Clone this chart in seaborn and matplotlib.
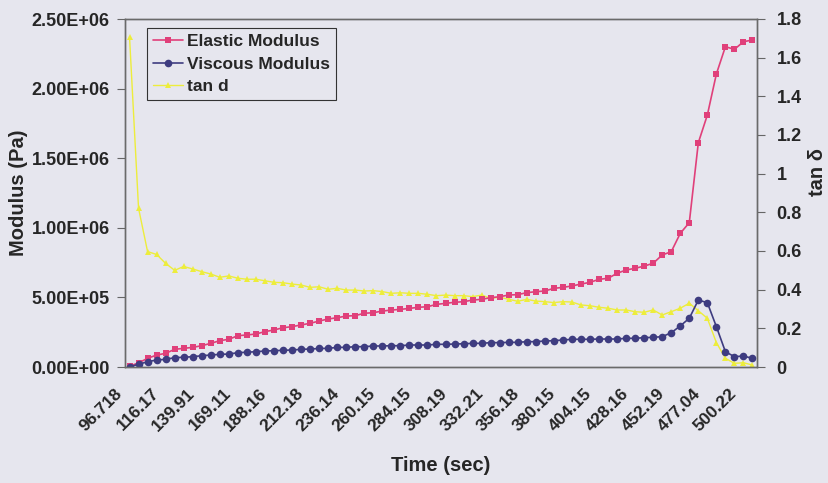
import numpy as np
import pandas as pd
import matplotlib
matplotlib.use("Agg")
import matplotlib.pyplot as plt
from matplotlib.ticker import FixedLocator, FuncFormatter
import seaborn as sns

# Time labels shown on the category axis (every 4th sample)
time_labels = ["96.718", "116.17", "139.91", "169.11", "188.16", "212.18",
               "236.14", "260.15", "284.15", "308.19", "332.21", "356.18",
               "380.15", "404.15", "428.16", "452.19", "477.04", "500.22"]

# Storage (elastic) modulus, Pa
elastic = [5e3, 30e3, 62e3, 86e3, 98e3, 127e3, 134e3, 141e3, 153e3, 170e3,
           189e3, 199e3, 225e3, 230e3, 237e3, 254e3, 266e3, 282e3, 290e3, 302e3,
           314e3, 330e3, 345e3, 354e3, 366e3, 369e3, 386e3, 390e3, 402e3, 409e3,
           414e3, 421e3, 429e3, 433e3, 450e3, 457e3, 465e3, 469e3, 481e3, 486e3,
           498e3, 505e3, 517e3, 520e3, 534e3, 541e3, 546e3, 565e3, 572e3, 582e3,
           596e3, 608e3, 630e3, 637e3, 673e3, 697e3, 709e3, 725e3, 745e3, 805e3,
           828e3, 960e3, 1037e3, 1611e3, 1810e3, 2105e3, 2301e3, 2282e3, 2337e3, 2349e3]

# Loss (viscous) modulus, Pa
viscous = [2e3, 19e3, 38e3, 50e3, 55e3, 67e3, 70e3, 74e3, 81e3, 86e3,
           91e3, 93e3, 103e3, 106e3, 110e3, 115e3, 117e3, 120e3, 122e3, 127e3,
           129e3, 133e3, 134e3, 141e3, 141e3, 146e3, 146e3, 151e3, 151e3, 153e3,
           153e3, 158e3, 158e3, 158e3, 163e3, 163e3, 165e3, 167e3, 170e3, 170e3,
           175e3, 175e3, 177e3, 177e3, 182e3, 182e3, 187e3, 189e3, 194e3, 199e3,
           199e3, 199e3, 201e3, 201e3, 201e3, 206e3, 206e3, 211e3, 213e3, 218e3,
           246e3, 295e3, 350e3, 481e3, 462e3, 290e3, 110e3, 74e3, 79e3, 62e3]

# Loss tangent
tan_d = [1.709, 0.821, 0.597, 0.582, 0.536, 0.500, 0.520, 0.507, 0.493, 0.481,
         0.464, 0.471, 0.459, 0.454, 0.454, 0.446, 0.438, 0.436, 0.429, 0.424,
         0.412, 0.415, 0.402, 0.407, 0.398, 0.398, 0.393, 0.395, 0.390, 0.381,
         0.384, 0.381, 0.381, 0.376, 0.369, 0.372, 0.369, 0.369, 0.364, 0.372,
         0.355, 0.361, 0.350, 0.340, 0.350, 0.341, 0.338, 0.333, 0.338, 0.336,
         0.321, 0.317, 0.309, 0.304, 0.295, 0.295, 0.286, 0.283, 0.295, 0.269,
         0.286, 0.304, 0.330, 0.291, 0.252, 0.126, 0.045, 0.019, 0.022, 0.010]

idx = np.arange(len(elastic))
df = pd.DataFrame({"idx": idx, "elastic": elastic, "viscous": viscous, "tan_d": tan_d})

bg = "#e6e6ee"
pink = "#e0407a"
navy = "#3e3c80"
yellow = "#eded3c"
text_c = "#262626"
tick_fs = 13
label_fs = 14.5

sns.set_theme(style="white")
plt.rcParams["font.family"] = ["Liberation Sans", "DejaVu Sans"]
plt.rcParams["font.weight"] = "bold"

fig = plt.figure(figsize=(8.29, 4.83), dpi=100, facecolor=bg)
ax = fig.add_axes([125 / 829, 1 - 367 / 483, 632 / 829, 348 / 483], facecolor=bg)
ax2 = ax.twinx()

sns.lineplot(data=df, x="idx", y="elastic", ax=ax, color=pink, marker="s",
             markersize=5, markeredgewidth=0, linewidth=1.2, legend=False)
sns.lineplot(data=df, x="idx", y="viscous", ax=ax, color=navy, marker="o",
             markersize=5.5, markeredgewidth=0, linewidth=1.2, legend=False)
sns.lineplot(data=df, x="idx", y="tan_d", ax=ax2, color=yellow, marker="^",
             markersize=5, markeredgewidth=0, linewidth=1.0, legend=False)

n = len(elastic)

ax.yaxis.set_major_locator(FixedLocator(np.arange(0, 2.5e6 + 1, 5e5)))
ax.yaxis.set_major_formatter(FuncFormatter(lambda v, p: f"{v:.2E}"))
ax2.yaxis.set_major_locator(FixedLocator(np.round(np.arange(0, 1.81, 0.2), 1)))
ax2.yaxis.set_major_formatter(FuncFormatter(lambda v, p: f"{v:g}"))

# Labels sit every 4th sample, on the left edge of that sample's slot so the
# rotated text ends just under its tick; tick marks sit on category boundaries.
label_pos = np.arange(0, 4 * len(time_labels), 4) - 0.45
ax.set_xticks(label_pos)
ax.set_xticklabels(time_labels, rotation=45, ha="right", va="bottom",
                   rotation_mode="anchor", fontsize=12.5, fontweight="bold", color=text_c)
ax.set_xticks(np.arange(-0.5, n, 4), minor=True)
ax.tick_params(axis="x", which="major", length=0, pad=21)
ax.tick_params(axis="x", which="minor", direction="inout", length=7, width=0.8, color="#666666")

ax.set_xlim(-0.5, n - 0.5)
ax.set_ylim(0, 2.5e6)
ax2.set_ylim(0, 1.8)

ax.tick_params(axis="y", which="major", direction="out", length=6, width=0.8,
               color="#666666", labelsize=tick_fs, labelcolor=text_c, pad=5)
ax2.tick_params(axis="y", which="major", direction="out", length=6, width=0.8,
                color="#666666", labelsize=tick_fs, labelcolor=text_c, pad=8)
for lab in ax.get_yticklabels() + ax2.get_yticklabels():
    lab.set_fontweight("bold")

for a in (ax, ax2):
    for s in a.spines.values():
        s.set_visible(True)
        s.set_color("#6a6a6a")
        s.set_linewidth(1.0)

ax.set_xlabel("Time (sec)", fontsize=label_fs, fontweight="bold", color=text_c)
ax.xaxis.set_label_coords(0.5, -0.256)
ax.set_ylabel("Modulus (Pa)", fontsize=label_fs, fontweight="bold", color=text_c)
ax.yaxis.set_label_coords(-0.153, 0.5)
ax2.set_ylabel("tan δ", fontsize=label_fs, fontweight="bold", color=text_c)
ax2.yaxis.set_label_coords(1.081, 0.56)

handles = ax.get_lines()[:2] + ax2.get_lines()[:1]
leg = ax.legend(handles, ["Elastic Modulus", "Viscous Modulus", "tan d"],
                loc="upper left", bbox_to_anchor=(0.035, 0.974), frameon=True,
                fancybox=False, edgecolor="#333333", facecolor=bg, framealpha=1,
                prop={"size": 12.5, "weight": "bold"}, handlelength=1.7,
                handletextpad=0.25, borderpad=0.35, labelspacing=0.42,
                borderaxespad=0)
leg.get_frame().set_linewidth(0.8)
for t in leg.get_texts():
    t.set_color(text_c)
ax.set_zorder(ax2.get_zorder() + 1)
ax.patch.set_visible(False)
ax2.patch.set_facecolor(bg)
ax2.patch.set_visible(True)

fig.savefig("out.png", dpi=100, facecolor=bg)
